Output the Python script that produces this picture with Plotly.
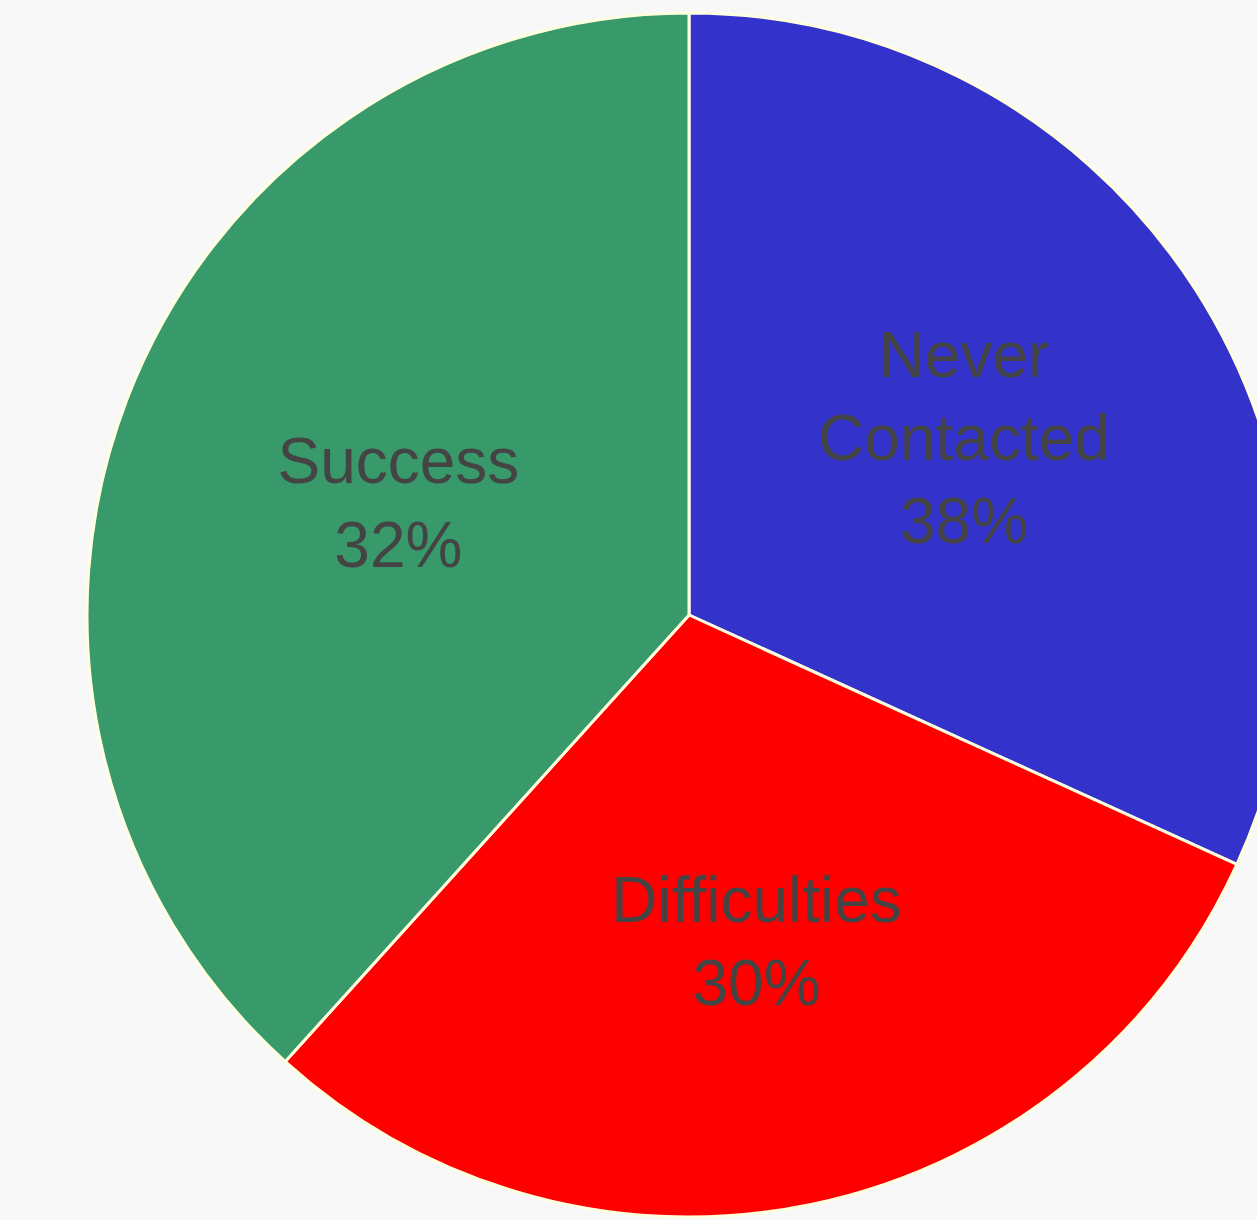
import plotly.graph_objects as go

labels = ["Never<br>Contacted", "Difficulties", "Success"]
values = [31.8, 29.9, 38.3]
shown_pct = ["38%", "30%", "32%"]
colors = ["#3333CC", "#FF0000", "#38996A"]

fig = go.Figure(go.Pie(
    labels=labels,
    values=values,
    text=shown_pct,
    textinfo="label+text",
    texttemplate="%{label}<br>%{text}",
    textposition="inside",
    insidetextorientation="horizontal",
    textfont=dict(family="Liberation Sans, Arial, sans-serif", size=64, color="#444444"),
    marker=dict(colors=colors, line=dict(color="#FFFFE0", width=3)),
    sort=False,
    direction="clockwise",
    rotation=0,
    showlegend=False,
    hoverinfo="label+text",
))

fig.update_layout(
    width=1378,
    height=1230,
    margin=dict(l=13, r=13, t=13, b=13),
    paper_bgcolor="#F8F8F8",
    plot_bgcolor="#F8F8F8",
)

fig.write_html("out.html")
